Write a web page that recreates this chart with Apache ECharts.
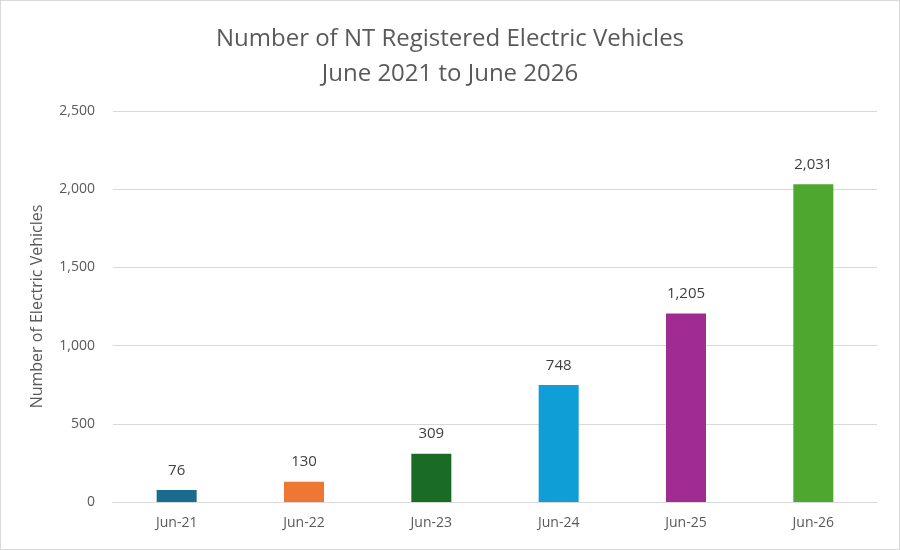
<!DOCTYPE html>
<html><head><meta charset="utf-8">
<script src="https://cdn.jsdelivr.net/npm/echarts@6/dist/echarts.min.js"></script>
<style>html,body{margin:0;padding:0;background:#fff}#c{width:898px;height:548px;border:1px solid #d9d9d9}</style>
</head><body><div id="c"></div>
<script>
const categories = ['Jun-21','Jun-22','Jun-23','Jun-24','Jun-25','Jun-26'];
const values = [76,130,309,748,1205,2031];
const colors = ['#196b8f','#ee7733','#1a6b25','#0f9ed5','#a02b93','#4ea72e'];
const chart = echarts.init(document.getElementById('c'));
chart.setOption({
  title:{text:'Number of NT Registered Electric Vehicles\nJune 2021 to June 2026',left:'center',top:16,
    textStyle:{fontFamily:'Open Sans',fontSize:24,fontWeight:'normal',color:'#595959',lineHeight:35}},
  grid:{left:112,right:22,top:110,bottom:47},
  xAxis:{type:'category',data:categories,axisTick:{show:false},
    axisLine:{lineStyle:{color:'#d9d9d9'}},
    axisLabel:{color:'#595959',fontSize:14,fontFamily:'Open Sans',margin:14}},
  yAxis:{type:'value',min:0,max:2500,interval:500,
    name:'Number of Electric Vehicles',nameLocation:'middle',nameGap:68,
    nameTextStyle:{color:'#595959',fontSize:16,fontFamily:'Open Sans'},
    splitLine:{lineStyle:{color:'#d9d9d9'}},
    axisLabel:{color:'#595959',fontSize:14,fontFamily:'Open Sans',margin:18}},
  series:[{type:'bar',barWidth:40,
    data:values.map((v,i)=>({value:v,itemStyle:{color:colors[i]}})),
    label:{show:true,position:'top',distance:12,color:'#404040',fontSize:15,fontFamily:'Open Sans',
      formatter:p=>p.value.toLocaleString('en-US')}}]
});
</script></body></html>
